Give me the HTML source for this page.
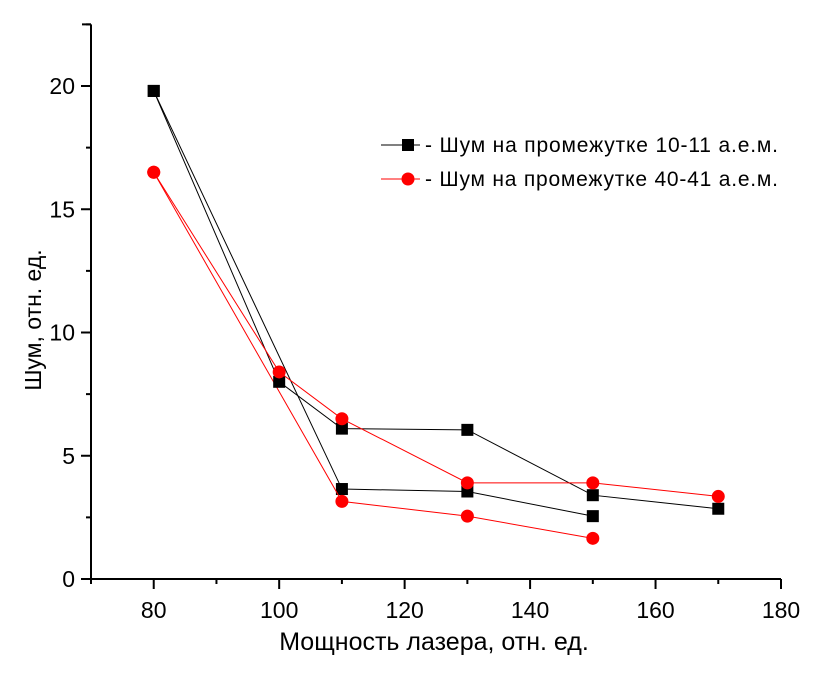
<!DOCTYPE html>
<html><head><meta charset="utf-8"><style>
body{margin:0;background:#fff;}
svg text{font-family:"Liberation Sans","DejaVu Sans",sans-serif;}
</style></head><body>
<svg id="chart" width="819" height="671" xmlns="http://www.w3.org/2000/svg"></svg>
<script>
const xTicks=[80,100,120,140,160,180];
const yTicks=[0,5,10,15,20];
const blackA_x=[80,100,110,130,150,170];
const blackA_y=[19.8,8.0,6.1,6.05,3.4,2.85];
const blackB_x=[80,110,130,150];
const blackB_y=[19.8,3.65,3.55,2.55];
const redA_x=[80,100,110,130,150,170];
const redA_y=[16.5,8.4,6.5,3.9,3.9,3.35];
const redB_x=[80,110,130,150];
const redB_y=[16.5,3.15,2.55,1.65];
const legendLabels=["- Шум на промежутке 10-11 а.е.м.","- Шум на промежутке 40-41 а.е.м."];

const svg=document.getElementById('chart');
const NS='http://www.w3.org/2000/svg';
const X0=91,X1=781,XMIN=70,XMAX=180,Y0=579,Y20=86;
const sx=v=>X0+(v-XMIN)*(X1-X0)/(XMAX-XMIN);
const sy=v=>Y0-v*(Y0-Y20)/20;
function mk(tag,attrs,parent){const e=document.createElementNS(NS,tag);for(const k in attrs)e.setAttribute(k,attrs[k]);(parent||svg).appendChild(e);return e;}

const ax=mk('g',{});


mk('line',{x1:X0,y1:sy(22.5),x2:X0,y2:Y0,stroke:'#000','stroke-width':2},ax);
mk('line',{x1:X0-1,y1:Y0,x2:X1,y2:Y0,stroke:'#000','stroke-width':2},ax);
mk('line',{x1:X0-9,y1:sy(22.5),x2:X0,y2:sy(22.5),stroke:'#000','stroke-width':2},ax);
for(let v=0;v<=22.5;v+=2.5){const maj=v%5===0;mk('line',{x1:X0-(maj?10:5),y1:sy(v),x2:X0,y2:sy(v),stroke:'#000','stroke-width':2},ax);}
for(let v=70;v<=180;v+=10){const maj=v%20===0;mk('line',{x1:sx(v),y1:Y0,x2:sx(v),y2:Y0+(maj?10:5),stroke:'#000','stroke-width':2},ax);}
yTicks.forEach(v=>{const t=mk('text',{x:X0-16,y:sy(v)+8,'text-anchor':'end','font-size':23},ax);t.textContent=v;
});
xTicks.forEach(v=>{const t=mk('text',{x:sx(v),y:Y0+39,'text-anchor':'middle','font-size':23},ax);t.textContent=v;
});
const xt=mk('text',{x:434,y:650,'text-anchor':'middle','font-size':25});xt.textContent='Мощность лазера, отн. ед.';

const yt=mk('text',{x:0,y:0,'text-anchor':'middle','font-size':23,transform:'translate(41,320) rotate(-90)'});yt.textContent='Шум, отн. ед.';


function series(xs,ys,color,shape,name){
  const g=mk('g',{});
  
  
  mk('polyline',{points:xs.map((x,i)=>sx(x)+','+sy(ys[i])).join(' '),fill:'none',stroke:color,'stroke-width':1},g);
  xs.forEach((x,i)=>{
    let m;
    if(shape==='sq')m=mk('rect',{x:sx(x)-6,y:sy(ys[i])-6,width:12,height:12,fill:color},g);
    else m=mk('circle',{cx:sx(x),cy:sy(ys[i]),r:6.5,fill:color},g);
    
    
  });
}
series(blackB_x,blackB_y,'#000','sq','series-10-11-b');
series(redB_x,redB_y,'#ff0000','ci','series-40-41-b');
series(blackA_x,blackA_y,'#000','sq','series-10-11-a');
series(redA_x,redA_y,'#ff0000','ci','series-40-41-a');

[['#000','sq',145],['#ff0000','ci',179]].forEach((d,i)=>{
  const g=mk('g',{});
  
  
  mk('line',{x1:381,y1:d[2],x2:420,y2:d[2],stroke:d[0],'stroke-width':1},g);
  if(d[1]==='sq')mk('rect',{x:402,y:d[2]-6,width:12,height:12,fill:d[0]},g);
  else mk('circle',{cx:408,cy:d[2],r:6.5,fill:d[0]},g);
  const t=mk('text',{x:425,y:d[2]+7,'font-size':21,textLength:353},g);t.textContent=legendLabels[i];
});
</script>
</body></html>
